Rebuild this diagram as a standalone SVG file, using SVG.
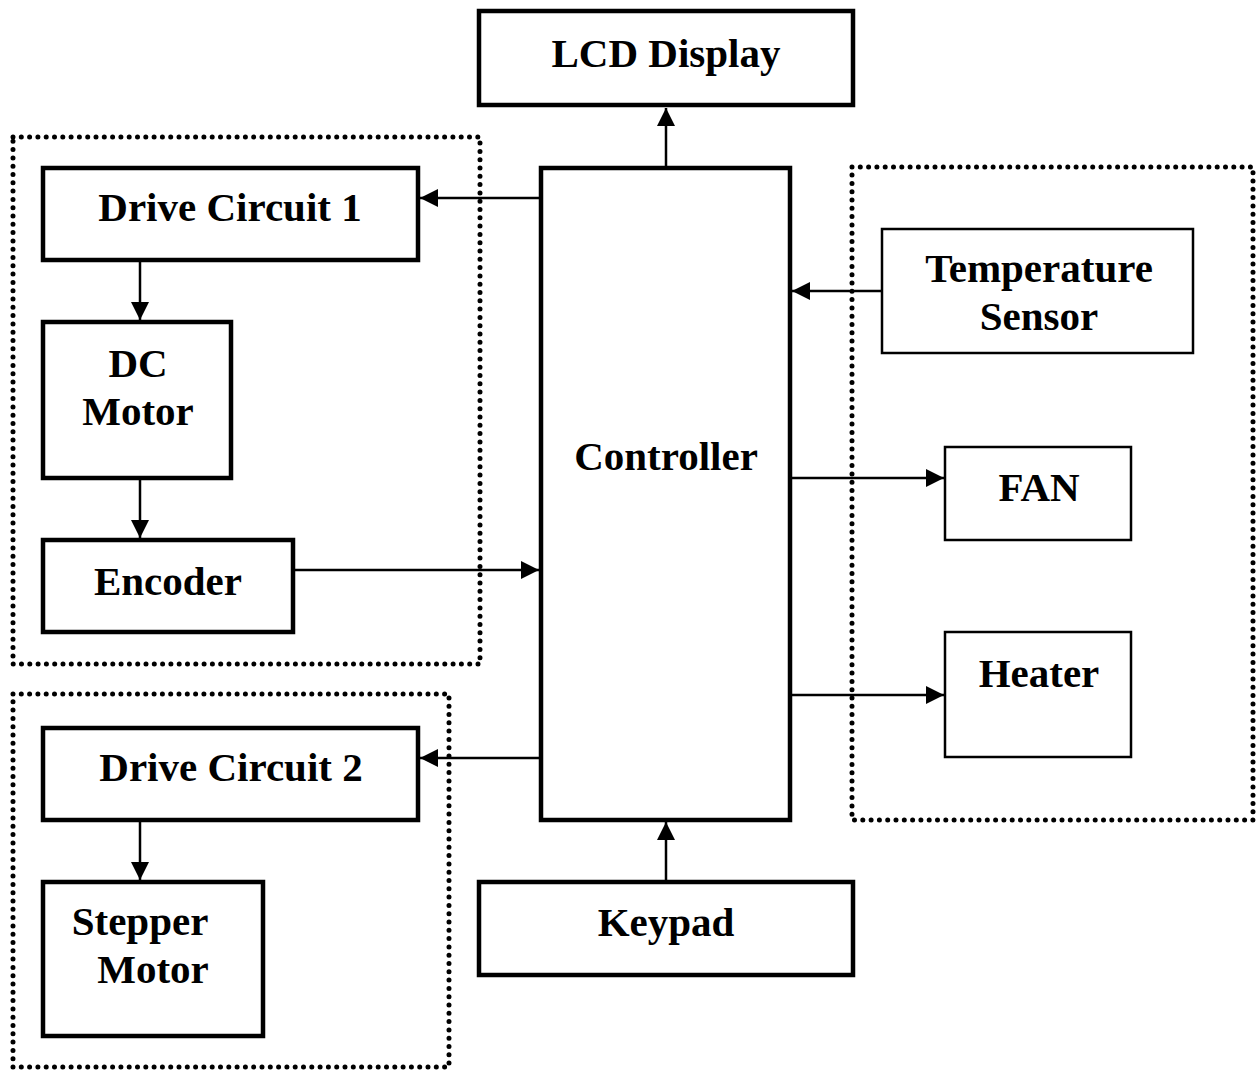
<svg xmlns="http://www.w3.org/2000/svg" width="1257" height="1070" viewBox="0 0 1257 1070">
<style>
.thick{fill:#fff;stroke:#000;stroke-width:4.5}
.thin{fill:#fff;stroke:#000;stroke-width:2.5}
.dot{fill:none;stroke:#000;stroke-width:5;stroke-dasharray:0 8.3;stroke-linecap:round}
.lbl{font-family:"Liberation Serif","Times New Roman",serif;font-weight:bold;font-size:41px;fill:#000;text-anchor:middle}
.conn{fill:none;stroke:#000;stroke-width:2.5}
</style>
<defs>
<marker id="ah" viewBox="0 0 10 10" refX="10" refY="5" markerUnits="userSpaceOnUse" markerWidth="20" markerHeight="18" orient="auto">
<path d="M0,0 L10,5 L0,10 Z" fill="#000"/>
</marker>
</defs>
<rect width="1257" height="1070" fill="#fff"/>
<g id="groups">
<rect class="dot" x="13" y="137" width="467" height="527"/>
<rect class="dot" x="13" y="694" width="436" height="373"/>
<rect class="dot" x="852" y="167" width="401" height="653"/>
</g>
<g id="connectors">
<line class="conn" x1="666" y1="167" x2="666" y2="108" marker-end="url(#ah)"/>
<line class="conn" x1="541" y1="198" x2="420" y2="198" marker-end="url(#ah)"/>
<line class="conn" x1="140" y1="262" x2="140" y2="320" marker-end="url(#ah)"/>
<line class="conn" x1="140" y1="480" x2="140" y2="538" marker-end="url(#ah)"/>
<line class="conn" x1="295" y1="570" x2="539" y2="570" marker-end="url(#ah)"/>
<line class="conn" x1="882" y1="291" x2="792" y2="291" marker-end="url(#ah)"/>
<line class="conn" x1="792" y1="478" x2="944" y2="478" marker-end="url(#ah)"/>
<line class="conn" x1="792" y1="695" x2="944" y2="695" marker-end="url(#ah)"/>
<line class="conn" x1="541" y1="758" x2="420" y2="758" marker-end="url(#ah)"/>
<line class="conn" x1="140" y1="822" x2="140" y2="880" marker-end="url(#ah)"/>
<line class="conn" x1="666" y1="882" x2="666" y2="822" marker-end="url(#ah)"/>
</g>
<g id="lcd"><rect class="thick" x="479" y="11" width="374" height="94"/><text class="lbl" x="666" y="67">LCD Display</text></g>
<g id="drive1"><rect class="thick" x="43" y="168" width="375" height="92"/><text class="lbl" x="230" y="221">Drive Circuit 1</text></g>
<g id="dcmotor"><rect class="thick" x="43" y="322" width="188" height="156"/><text class="lbl" x="138" y="377">DC</text><text class="lbl" x="138" y="425">Motor</text></g>
<g id="encoder"><rect class="thick" x="43" y="540" width="250" height="92"/><text class="lbl" x="168" y="595">Encoder</text></g>
<g id="drive2"><rect class="thick" x="43" y="728" width="375" height="92"/><text class="lbl" x="231" y="781">Drive Circuit 2</text></g>
<g id="stepper"><rect class="thick" x="43" y="882" width="220" height="154"/><text class="lbl" x="140" y="935">Stepper</text><text class="lbl" x="153" y="983">Motor</text></g>
<g id="controller"><rect class="thick" x="541" y="168" width="249" height="652"/><text class="lbl" x="666" y="470">Controller</text></g>
<g id="keypad"><rect class="thick" x="479" y="882" width="374" height="93"/><text class="lbl" x="666" y="936">Keypad</text></g>
<g id="tempsensor"><rect class="thin" x="882" y="229" width="311" height="124"/><text class="lbl" x="1039" y="282">Temperature</text><text class="lbl" x="1039" y="330">Sensor</text></g>
<g id="fan"><rect class="thin" x="945" y="447" width="186" height="93"/><text class="lbl" x="1039" y="501">FAN</text></g>
<g id="heater"><rect class="thin" x="945" y="632" width="186" height="125"/><text class="lbl" x="1039" y="687">Heater</text></g>
</svg>
